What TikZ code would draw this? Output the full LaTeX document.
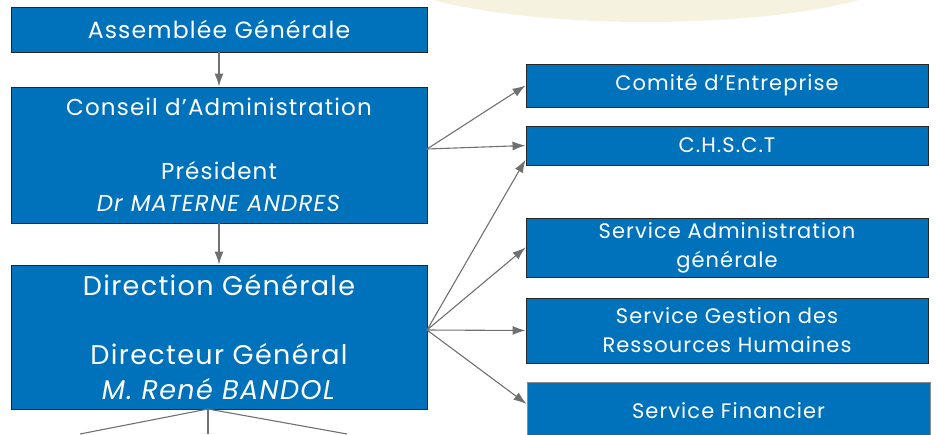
\documentclass[tikz,border=0pt]{standalone}
\usepackage{fontspec}
\setmainfont{Poppins}[LetterSpace=5]
\usepackage{tikz}
\usetikzlibrary{arrows.meta}
\definecolor{boxblue}{RGB}{0,114,188}
\definecolor{glow}{RGB}{245,242,224}
\definecolor{linegray}{RGB}{112,112,112}

\begin{document}
\begin{tikzpicture}
  [x=1pt,y=-1pt,every node/.style={rectangle,draw=black!85,fill=boxblue,text=white,
   inner sep=0pt,align=center,line width=0.9pt},
   link/.style={draw=linegray,line width=1.1pt,-{Latex[length=13pt,width=9pt]}}]
  \useasboundingbox (0,0) rectangle (939,434);
  \fill[glow] (646,-40) ellipse (279 and 62);

  \node[minimum width=416,minimum height=45,font=\fontsize{23.5}{26}\selectfont] (ag) at (219,29.5) {Assemblée Générale};
  \node[minimum width=416,minimum height=136,font=\fontsize{23}{32}\selectfont] (ca) at (219,155)
    {Conseil d’Administration\\[32pt]Président\\\textit{Dr MATERNE ANDRES}};
  \node[minimum width=416,minimum height=144,font=\fontsize{27}{34.5}\selectfont] (dg) at (219,337)
    {Direction Générale\\[34.5pt]Directeur Général\\\textit{M. René BANDOL}};

  \node[minimum width=402,minimum height=43,font=\fontsize{21}{29}\selectfont] (ce) at (727,85.5) {Comité d’Entreprise};
  \node[minimum width=402,minimum height=39,font=\fontsize{21}{29}\selectfont] (ch) at (727,145.5) {C.H.S.C.T};
  \node[minimum width=402,minimum height=59,font=\fontsize{21}{29}\selectfont] (sa) at (727,247.5) {Service Administration\\générale};
  \node[minimum width=402,minimum height=65,font=\fontsize{21}{29}\selectfont] (sg) at (727,330.5) {Service Gestion des\\Ressources Humaines};
  \node[draw=black!45,minimum width=403,minimum height=58,font=\fontsize{21}{29}\selectfont] (sf) at (728.5,411) {Service Financier};

\coordinate (caout) at (427,149);
\coordinate (dgout) at (427,330);
\coordinate (dgdown) at (208,409);
\coordinate (b1) at (80,434);
\coordinate (b2) at (208,434);
\coordinate (b3) at (347,434);

  \foreach \from/\to in {ag/ca,ca/dg}
    \draw[link] (\from) -- (\to);
  \foreach \to in {ce.west,ch.west}
    \draw[link] (caout) -- (\to);
  \foreach \to in {ch.184,sa.west,sg.west,sf.178}
    \draw[link] (dgout) -- (\to);
  \foreach \to in {b1,b2,b3}
    \draw[draw=linegray,line width=1.1pt] (dgdown) -- (\to);

\end{tikzpicture}
\end{document}
